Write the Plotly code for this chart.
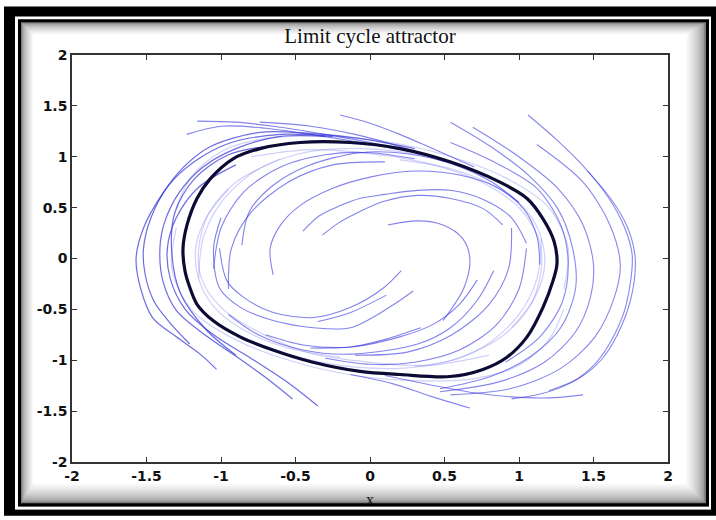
import plotly.graph_objects as go

# ---------------- data (data units) ----------------
limit_cycle_x = [-1.255, -1.242, -1.208, -1.161, -1.054, -0.872, -0.651, -0.383, -0.067, 0.201, 0.537, 0.758,
                 0.919, 1.054, 1.161, 1.228, 1.255, 1.235, 1.161, 1.054, 0.872, 0.537, 0.201, -0.134, -0.470,
                 -0.738, -0.919, -1.074, -1.161, -1.228, -1.255]
limit_cycle_y = [0.10, -0.12, -0.29, -0.45, -0.61, -0.77, -0.90, -1.02, -1.11, -1.14, -1.16, -1.09,
                 -0.97, -0.77, -0.48, -0.22, -0.05, 0.17, 0.39, 0.59, 0.75, 0.95, 1.08, 1.14, 1.14,
                 1.08, 0.98, 0.78, 0.59, 0.33, 0.10]

outer_left = [
    ([0.30, -0.07, -0.40, -0.74, -1.07, -1.25, -1.40, -1.52, -1.57, -1.54, -1.46, -1.30, -1.14, -1.03],
     [1.08, 1.18, 1.23, 1.24, 1.10, 0.90, 0.62, 0.30, 0.00, -0.29, -0.58, -0.77, -0.94, -1.09]),
    ([-0.25, -0.60, -0.95, -1.18, -1.35, -1.47, -1.52, -1.51, -1.45, -1.35, -1.21],
     [1.20, 1.22, 1.13, 0.95, 0.72, 0.40, 0.10, -0.15, -0.42, -0.62, -0.84]),
    ([-0.30, -0.60, -0.90, -1.12, -1.28, -1.38, -1.41, -1.39, -1.30, -1.09, -0.88, -0.70, -0.52],
     [1.20, 1.20, 1.08, 0.90, 0.65, 0.35, 0.10, -0.22, -0.51, -0.77, -0.98, -1.17, -1.38]),
    ([-0.90, -1.15, -1.30, -1.36, -1.34, -1.24, -1.05, -0.80, -0.57, -0.35],
     [0.92, 0.70, 0.40, 0.10, -0.20, -0.50, -0.75, -0.98, -1.20, -1.45]),
    ([-0.60, -0.95, -1.18, -1.31, -1.33, -1.27, -1.10, -0.90],
     [1.12, 1.02, 0.78, 0.45, 0.05, -0.35, -0.70, -0.95]),
]

top_lines = [
    ([-1.16, -0.90, -0.60, -0.30, 0.00, 0.30], [1.35, 1.34, 1.29, 1.22, 1.14, 1.04]),
    ([-1.23, -1.00, -0.70, -0.40, -0.10, 0.20], [1.22, 1.30, 1.28, 1.22, 1.15, 1.07]),
    ([-0.74, -0.40, -0.10, 0.20, 0.50], [1.34, 1.30, 1.22, 1.10, 0.95]),
    ([-0.20, 0.00, 0.20, 0.42, 0.70], [1.41, 1.33, 1.22, 1.08, 0.90]),
]

outer_right = [
    ([1.06, 1.25, 1.43, 1.60, 1.71, 1.76, 1.72, 1.64, 1.52, 1.35, 1.15, 0.95],
     [1.41, 1.17, 0.91, 0.60, 0.30, 0.03, -0.45, -0.75, -1.02, -1.22, -1.33, -1.38]),
    ([1.46, 1.62, 1.73, 1.78, 1.75, 1.66, 1.55, 1.40, 1.20],
     [0.86, 0.58, 0.30, 0.00, -0.40, -0.75, -1.00, -1.18, -1.30]),
    ([1.12, 1.43, 1.61, 1.68, 1.64, 1.51, 1.28, 0.94, 0.54],
     [1.12, 0.75, 0.33, -0.06, -0.38, -0.77, -1.08, -1.28, -1.34]),
    ([0.69, 0.99, 1.26, 1.43, 1.50, 1.48, 1.38, 1.17, 0.87, 0.47],
     [1.29, 1.01, 0.69, 0.33, -0.06, -0.38, -0.72, -1.02, -1.21, -1.31]),
    ([0.54, 0.81, 1.07, 1.26, 1.36, 1.38, 1.28, 1.07, 0.81, 0.47],
     [1.34, 1.10, 0.81, 0.49, 0.10, -0.29, -0.68, -0.97, -1.16, -1.28]),
    ([0.54, 0.83, 1.12, 1.28, 1.33, 1.29, 1.14, 0.91],
     [1.14, 0.95, 0.69, 0.33, -0.04, -0.43, -0.77, -1.02]),
    ([1.43, 1.20, 0.95, 0.70, 0.40, 0.10], [-1.34, -1.37, -1.36, -1.32, -1.24, -1.15]),
    ([0.67, 0.40, 0.15, -0.13], [-1.47, -1.35, -1.23, -1.14]),
]

inner_upper = [
    ([-0.65, -0.67, -0.60, -0.47, -0.25, 0.00, 0.30, 0.60, 0.85, 1.03, 1.12, 1.14],
     [-0.16, 0.10, 0.33, 0.52, 0.69, 0.80, 0.86, 0.82, 0.70, 0.49, 0.22, -0.06]),
    ([-0.45, -0.34, -0.20, -0.07, 0.10, 0.32, 0.54, 0.76, 0.95, 1.05],
     [0.27, 0.42, 0.52, 0.59, 0.63, 0.67, 0.67, 0.58, 0.40, 0.15]),
    ([-0.32, -0.20, -0.07, 0.09, 0.32, 0.54, 0.76, 0.89],
     [0.23, 0.36, 0.46, 0.56, 0.62, 0.59, 0.49, 0.33]),
    ([0.12, 0.32, 0.49, 0.62, 0.67, 0.63, 0.49],
     [0.33, 0.37, 0.33, 0.20, 0.00, -0.29, -0.61]),
    ([-0.86, -0.81, -0.65, -0.42, -0.07, 0.25, 0.55, 0.82, 1.00],
     [0.13, 0.46, 0.72, 0.91, 1.04, 1.03, 0.93, 0.75, 0.55]),
    ([-1.05, -1.00, -0.85, -0.60, -0.30, 0.00, 0.30],
     [-0.10, 0.30, 0.65, 0.90, 1.02, 1.04, 0.98]),
    ([-0.95, -0.93, -0.80, -0.55, -0.25, 0.10],
     [-0.30, 0.10, 0.45, 0.75, 0.92, 0.95]),
]

inner_lower = [
    ([0.21, 0.09, -0.13, -0.38, -0.65, -0.85, -0.96, -1.01],
     [-0.12, -0.29, -0.48, -0.58, -0.53, -0.38, -0.22, 0.10]),
    ([0.29, 0.13, -0.13, -0.38, -0.65, -0.87, -1.01, -1.05, -1.00],
     [-0.32, -0.48, -0.68, -0.68, -0.61, -0.48, -0.29, 0.10, 0.40]),
    ([0.83, 0.72, 0.54, 0.32, -0.13, -0.45, -0.75, -0.95],
     [-0.12, -0.41, -0.68, -0.84, -0.94, -0.90, -0.75, -0.55]),
    ([0.72, 0.60, 0.42, 0.20, -0.13, -0.45, -0.70],
     [-0.21, -0.45, -0.65, -0.77, -0.87, -0.85, -0.75]),
    ([0.34, 0.09, -0.13, -0.40], [-0.68, -0.80, -0.87, -0.88]),
    ([0.11, -0.13, -0.35], [-0.36, -0.53, -0.62]),
    ([1.05, 1.00, 0.85, 0.60, 0.30, 0.00, -0.30],
     [0.10, -0.30, -0.65, -0.90, -1.02, -1.04, -0.98]),
    ([0.95, 0.93, 0.80, 0.55, 0.25, -0.10],
     [0.30, -0.10, -0.45, -0.75, -0.92, -0.95]),
]

near_cycle = [
    ([-0.80, -0.40, 0.00, 0.40, 0.75, 1.00, 1.13, 1.15, 1.08, 0.90, 0.60, 0.30],
     [1.00, 1.07, 1.03, 0.93, 0.75, 0.50, 0.20, -0.10, -0.45, -0.75, -0.98, -1.06]),
    ([0.80, 0.40, 0.00, -0.40, -0.75, -1.00, -1.13, -1.15, -1.08, -0.90, -0.60],
     [-0.95, -1.05, -1.02, -0.93, -0.72, -0.48, -0.20, 0.10, 0.45, 0.75, 0.98]),
    ([-1.30, -1.20, -1.00, -0.70, -0.30, 0.10, 0.50, 0.90, 1.20, 1.33, 1.30],
     [0.50, 0.80, 1.05, 1.18, 1.20, 1.15, 1.02, 0.80, 0.50, 0.10, -0.30]),
    ([1.30, 1.20, 1.00, 0.70, 0.30, -0.10, -0.50, -0.90, -1.20, -1.33, -1.30],
     [-0.50, -0.80, -1.05, -1.18, -1.20, -1.15, -1.02, -0.80, -0.50, -0.10, 0.30]),
    ([0.20, 0.55, 0.85, 1.05, 1.15, 1.17, 1.10, 0.95],
     [0.97, 0.88, 0.70, 0.47, 0.20, -0.10, -0.40, -0.68]),
    ([-0.20, -0.55, -0.85, -1.05, -1.15, -1.17, -1.10, -0.95],
     [-0.97, -0.88, -0.70, -0.47, -0.20, 0.10, 0.40, 0.68]),
    ([-1.15, -1.12, -1.00, -0.78, -0.50, -0.20, 0.20, 0.55],
     [-0.20, 0.20, 0.55, 0.85, 1.02, 1.08, 1.05, 0.95]),
    ([1.15, 1.12, 1.00, 0.78, 0.50, 0.20, -0.20, -0.55],
     [0.20, -0.20, -0.55, -0.85, -1.02, -1.08, -1.05, -0.95]),
]

tick_vals = [-2, -1.5, -1, -0.5, 0, 0.5, 1, 1.5, 2]
tick_text = ["-2", "-1.5", "-1", "-0.5", "0", "0.5", "1", "1.5", "2"]
title_text = "Limit cycle attractor"
x_label = "x"

# ---------------- figure ----------------
W, H = 716, 520
ML, MR, MT, MB = 72, 48, 55, 54
PW, PH = W - ML - MR, H - MT - MB


def pxx(p):
    return (p - ML) / PW


def pxy(p):
    return (H - MB - p) / PH


fig = go.Figure()


def add_group(group, color, width):
    for xs, ys in group:
        fig.add_trace(go.Scatter(x=xs, y=ys, mode="lines",
                                 line=dict(color=color, width=width, shape="spline", smoothing=0.9),
                                 hoverinfo="skip", showlegend=False))


add_group(near_cycle, "rgba(120,120,240,0.35)", 1.2)
add_group(outer_left, "rgba(45,45,215,0.70)", 1.2)
add_group(top_lines, "rgba(50,50,220,0.60)", 1.1)
add_group(outer_right, "rgba(55,55,225,0.60)", 1.1)
add_group(inner_upper, "rgba(55,55,225,0.62)", 1.1)
add_group(inner_lower, "rgba(55,55,225,0.62)", 1.1)

# limit cycle drawn on an overlaying x axis (same range) whose only tick label is the axis name
fig.add_trace(go.Scatter(x=limit_cycle_x, y=limit_cycle_y, mode="lines", xaxis="x2",
                         line=dict(color="#0b0b35", width=3.2, shape="spline", smoothing=0.9),
                         hoverinfo="skip", showlegend=False))

shapes = []


def rect(x0, y0, x1, y1, color, layer="below"):
    shapes.append(dict(type="rect", xref="paper", yref="paper",
                       x0=pxx(x0), x1=pxx(x1), y0=pxy(y1), y1=pxy(y0),
                       fillcolor=color, line=dict(width=0), layer=layer))


rect(4, 6, 716, 520, "black")
rect(15, 16, 711, 514, "white")
rect(18, 19, 709, 511, "black")
levels = 12
for i in range(levels):
    t = i / (levels - 1)
    g = int(125 + (255 - 125) * t ** 0.55)
    rect(21 + i * 1.1, 22 + i * 1.1, 706 - i * 1.8, 508 - i * 1.8, f"rgb({g},{g},{g})")

# bottom frame pieces drawn above so the x label is cut as in the reference
rect(4, 514, 716, 520, "black", "above")
rect(15, 511, 711, 514, "white", "above")
rect(18, 508, 709, 511, "black", "above")

axis_common = dict(range=[-2, 2], tickvals=tick_vals, ticktext=tick_text, showgrid=False, zeroline=False,
                   showline=True, linecolor="#333", linewidth=1.5, mirror="ticks", ticks="inside",
                   ticklen=5, tickwidth=1.2, tickcolor="#333",
                   tickfont=dict(family="DejaVu Sans", size=14, color="#111", weight="bold"))

fig.update_layout(
    width=W, height=H,
    margin=dict(l=ML, r=MR, t=MT, b=MB),
    paper_bgcolor="white", plot_bgcolor="rgba(0,0,0,0)",
    xaxis=dict(**axis_common),
    yaxis=dict(**axis_common),
    xaxis2=dict(overlaying="x", anchor="y", side="bottom", range=[-2, 2], tickvals=[0], ticktext=[x_label],
                showgrid=False, zeroline=False, showline=False, ticks="",
                ticklabelstandoff=26,
                tickfont=dict(family="Liberation Serif", size=16, color="#111")),
    shapes=shapes,
    title=dict(text=title_text, x=370 / W, xanchor="center", xref="container",
               y=1 - 36 / H, yanchor="middle",
               font=dict(family="Liberation Serif", size=21, color="#111")),
)

fig.write_html("out.html", config={"displayModeBar": False},
               post_script="document.body.style.margin='0px';document.body.style.overflow='hidden';")
